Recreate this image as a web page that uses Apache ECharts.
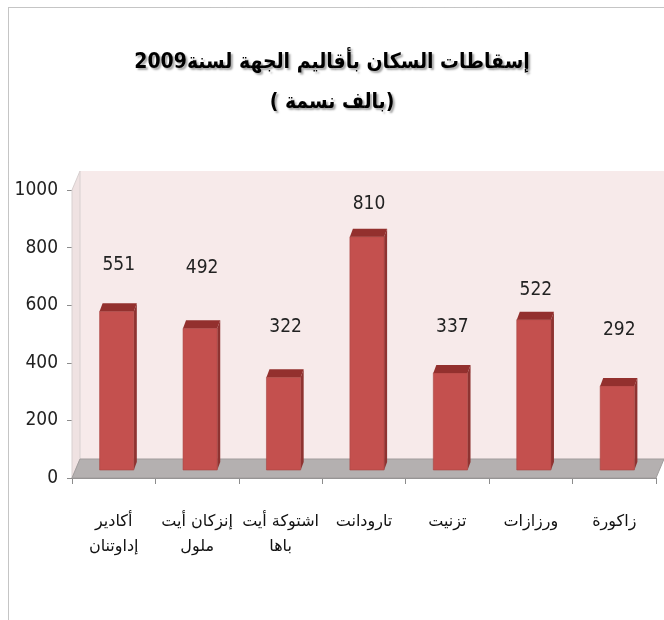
<!DOCTYPE html>
<html>
<head>
<meta charset="utf-8">
<script src="https://cdn.jsdelivr.net/npm/echarts@6/dist/echarts.min.js"></script>
<style>
  html, body { margin: 0; padding: 0; background: #fff; }
  #chart { width: 664px; height: 620px; }
</style>
</head>
<body>
<div id="chart"></div>
<script>
// provinces, left to right
const provinces = ['أكادير\nإداوتنان', 'إنزكان أيت\nملول', 'اشتوكة أيت\nباها', 'تارودانت', 'تزنيت', 'ورزازات', 'زاكورة'];
// population 2009 (thousands)
const population = [551, 492, 322, 810, 337, 522, 292];
const yTicks = [0, 200, 400, 600, 800, 1000];
// labels were placed by hand in the original, so lift each one differently
const labelGap = [54, 68, 58, 41, 54, 38, 64];

const narrowFont = '"DejaVu Sans Condensed", "Liberation Sans Narrow", sans-serif';

const chart = echarts.init(document.getElementById('chart'));

// 3d depth of walls and bars
const wallDx = 8, wallDy = 19;
const barDx = 3, barDy = 8, capDx = 3, capDy = 8;

function renderWalls(params, api) {
    const cs = params.coordSys;
    const x0 = cs.x, y0 = cs.y, x1 = cs.x + cs.width, y1 = cs.y + cs.height;
    return {
        type: 'group',
        children: [
            { // back wall
                type: 'polygon',
                shape: { points: [[x0 + wallDx, y0 - wallDy], [x1 + wallDx, y0 - wallDy], [x1 + wallDx, y1 - wallDy], [x0 + wallDx, y1 - wallDy]] },
                style: { fill: '#f7eaea' }
            },
            { // side wall
                type: 'polygon',
                shape: { points: [[x0, y0], [x0 + wallDx, y0 - wallDy], [x0 + wallDx, y1 - wallDy], [x0, y1]] },
                style: { fill: '#efe2e2', stroke: '#d8d0d0', lineWidth: 1 }
            },
            { // floor
                type: 'polygon',
                shape: { points: [[x0, y1], [x0 + wallDx, y1 - wallDy], [x1 + wallDx, y1 - wallDy], [x1, y1]] },
                style: { fill: '#b4b0b0', stroke: '#a09c9c', lineWidth: 1 }
            }
        ]
    };
}

function renderBar(params, api) {
    const i = api.value(0);
    const base = api.coord([i, 0]);
    const top = api.coord([i, api.value(1)]);
    const w = api.size([1, 0])[0] * 0.41;
    const x0 = base[0] - w / 2 + barDx;
    const yb = base[1] - barDy;
    const yt = top[1] - barDy;
    return {
        type: 'group',
        children: [
            {
                type: 'polygon',
                shape: { points: [[x0 + w, yt], [x0 + w + capDx, yt - capDy], [x0 + w + capDx, yb - capDy], [x0 + w, yb]] },
                style: { fill: '#8e3331' }
            },
            {
                type: 'rect',
                shape: { x: x0, y: yt, width: w, height: yb - yt },
                style: { fill: '#c4504e', stroke: '#a94442', lineWidth: 0.6 }
            },
            {
                type: 'polygon',
                shape: { points: [[x0, yt], [x0 + capDx, yt - capDy], [x0 + w + capDx, yt - capDy], [x0 + w, yt]] },
                style: { fill: '#93302e' }
            },
            {
                type: 'text',
                style: {
                    text: String(api.value(1)),
                    x: x0 + w / 2 + 2,
                    y: top[1] - labelGap[i],
                    align: 'center',
                    verticalAlign: 'middle',
                    fontFamily: narrowFont,
                    fontSize: 19,
                    fill: '#222'
                }
            }
        ]
    };
}

const option = {
    backgroundColor: '#fff',
    animation: false,
    graphic: [
        { // chart frame, cut on the right and bottom
            type: 'rect',
            left: 6, top: 5,
            shape: { width: 700, height: 700 },
            style: { fill: 'none', stroke: '#8a8a8a', lineWidth: 1, lineDash: [1, 1] },
            silent: true
        }
    ],
    title: {
        text: 'إسقاطات السكان بأقاليم الجهة لسنة2009\n( بالف نسمة)',
        left: 'center',
        top: 38,
        textStyle: {
            fontFamily: '"DejaVu Sans Condensed", "DejaVu Sans", sans-serif',
            fontWeight: 'bold',
            fontSize: 21,
            lineHeight: 40,
            color: '#000',
            textShadowColor: 'rgba(0,0,0,0.35)',
            textShadowBlur: 2,
            textShadowOffsetX: 2,
            textShadowOffsetY: 2
        }
    },
    grid: { left: 72, right: 8, top: 190, bottom: 142 },
    xAxis: {
        type: 'category',
        data: provinces,
        axisLine: { lineStyle: { color: '#8c8c8c' } },
        axisTick: { show: true, length: 6, lineStyle: { color: '#8c8c8c' } },
        axisLabel: {
            interval: 0,
            margin: 31,
            fontFamily: '"DejaVu Sans", sans-serif',
            fontSize: 16,
            lineHeight: 25,
            color: '#111'
        }
    },
    yAxis: {
        type: 'value',
        min: yTicks[0],
        max: yTicks[yTicks.length - 1],
        interval: yTicks[1] - yTicks[0],
        axisLine: { show: true, lineStyle: { color: '#8c8c8c' } },
        axisTick: { show: true, length: 5, lineStyle: { color: '#8c8c8c' } },
        splitLine: { show: false },
        axisLabel: {
            margin: 14,
            formatter: v => String(v),
            fontFamily: narrowFont,
            fontSize: 19,
            color: '#222'
        }
    },
    series: [
        {
            type: 'custom',
            silent: true,
            z: 1,
            renderItem: renderWalls,
            data: [[0, 0]]
        },
        {
            type: 'custom',
            z: 2,
            renderItem: renderBar,
            encode: { x: 0, y: 1 },
            data: population.map((v, i) => [i, v])
        }
    ]
};

chart.setOption(option);
</script>
</body>
</html>
